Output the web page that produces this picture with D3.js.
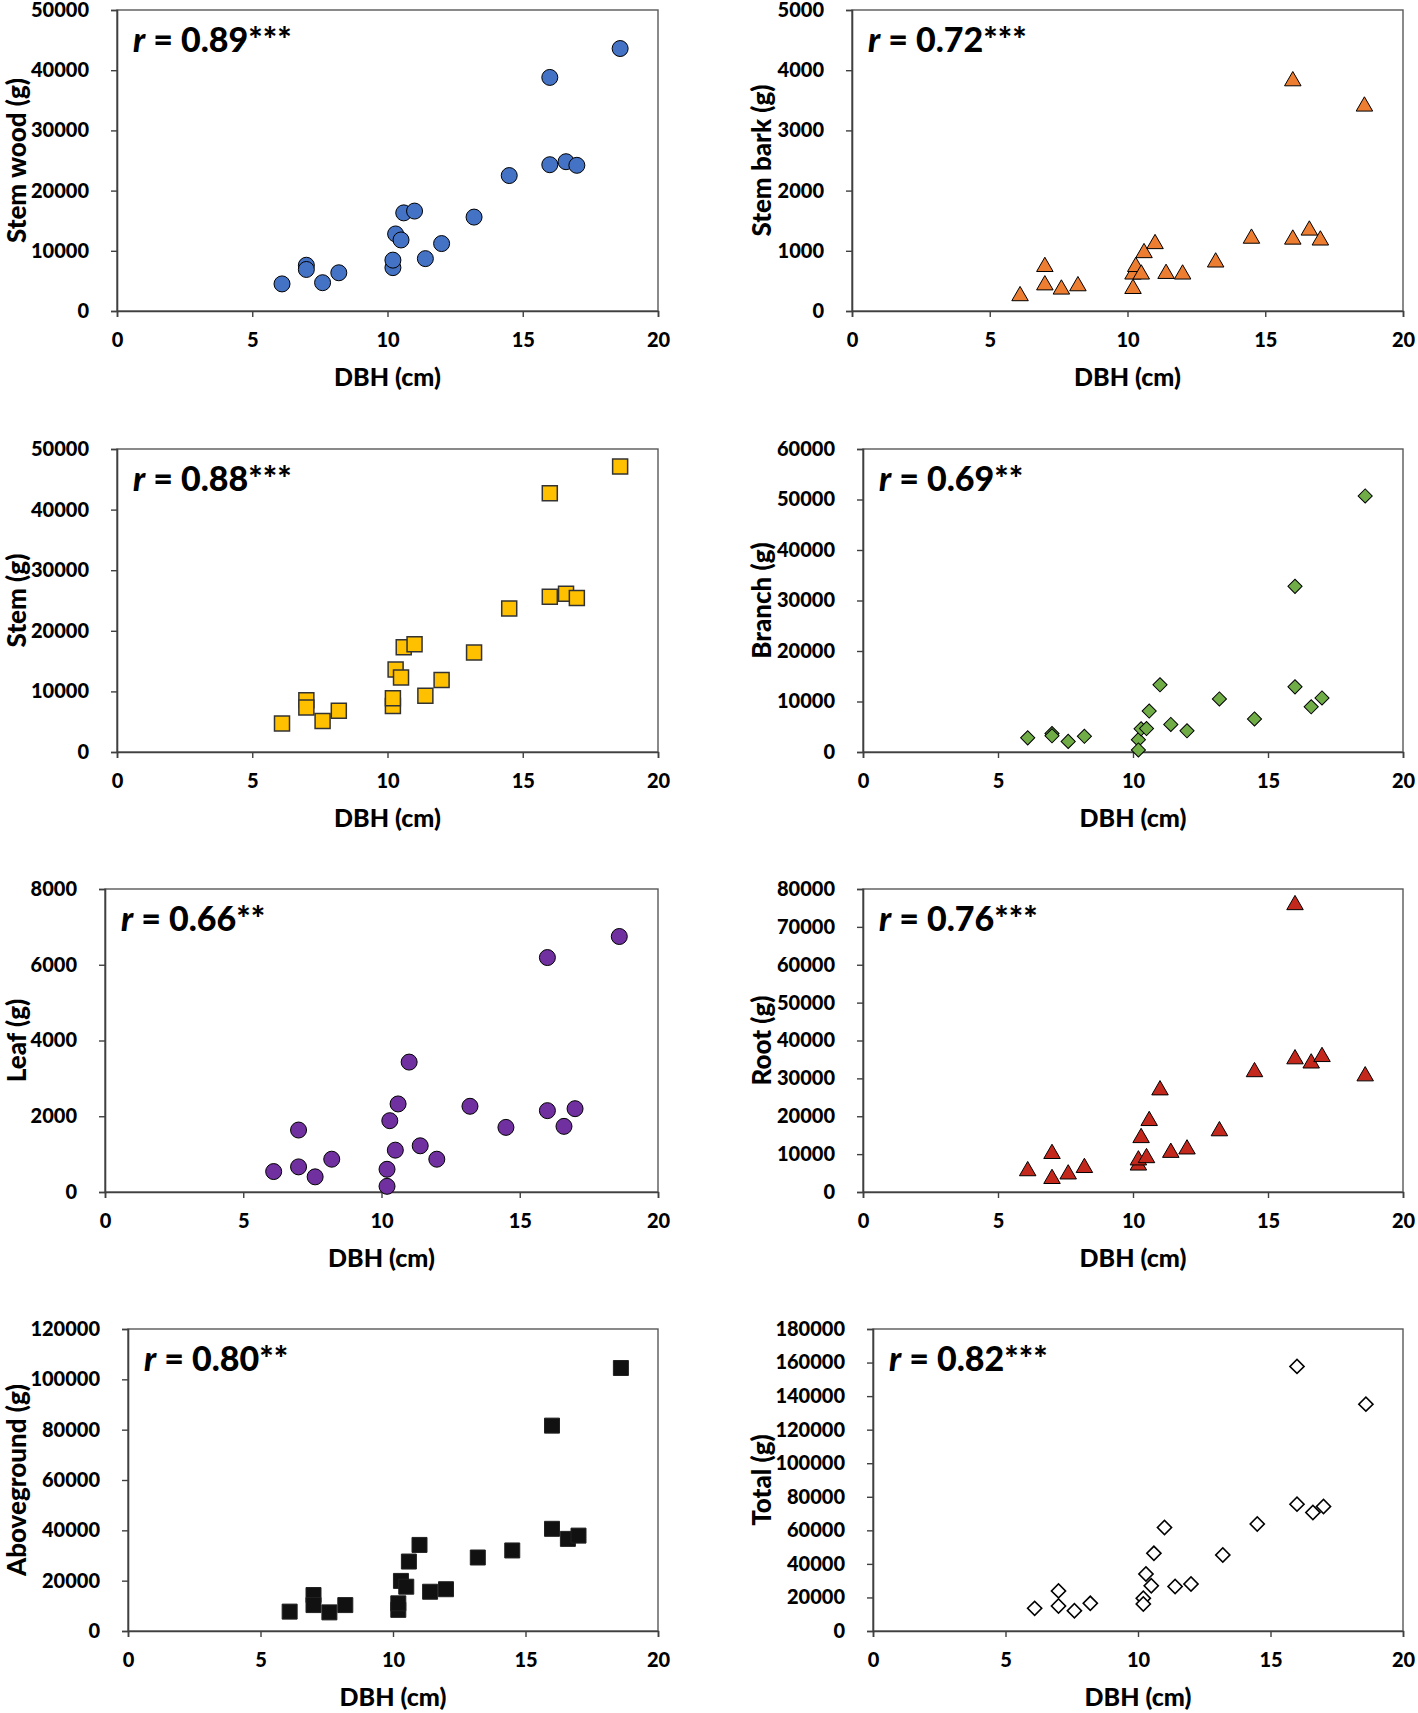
<!DOCTYPE html>
<html>
<head>
<meta charset="utf-8">
<script src="https://cdn.jsdelivr.net/npm/d3@7"></script>
<style>
  html, body { margin: 0; padding: 0; background: #fff; }
  svg text { font-family: Lato, "Open Sans", sans-serif; font-weight: 900; fill: #000; }
</style>
</head>
<body>
<svg id="chart" width="1418" height="1713"></svg>
<script>
// ---- data ----
const dbh = [6.1, 7.0, 7.0, 7.6, 8.2, 10.2, 10.2, 10.3, 10.5, 10.6, 11.0, 11.4, 12.0, 13.2, 14.5, 16.0, 16.0, 16.6, 17.0, 18.6];
const stemWood = [4500, 7600, 6900, 4700, 6350, 7200, 8450, 12800, 11800, 16300, 16600, 8700, 11200, 15600, 22500, 38800, 24300, 24800, 24200, 43600];
const stemBark = [250, 735, 430, 360, 415, 370, 610, 735, 610, 965, 1115, 620, 610, 810, 1205, 3820, 1190, 1340, 1175, 3400];
const stem = [4700, 8550, 7350, 5100, 6800, 7600, 8850, 13600, 12300, 17300, 17800, 9300, 11900, 16400, 23700, 42700, 25600, 26100, 25400, 47100];
const branch = [2800, 3650, 3200, 2100, 3100, 2450, 400, 4600, 4650, 8100, 13300, 5450, 4200, 10500, 6550, 32800, 12900, 8950, 10700, 50700];
const leaf = [540, 663, 1636, 400, 866, 600, 150, 1883, 1105, 2325, 3430, 1220, 866, 2263, 1706, 6190, 2148, 1733, 2200, 6746];
const root = [5550, 10100, 3500, 4700, 6400, 7050, 8400, 14300, 9000, 18800, 26900, 10400, 11300, 16100, 31700, 75800, 35100, 34000, 35700, 30600];
const aboveground = [7700, 14300, 10300, 7400, 10300, 8400, 11000, 19900, 17600, 27600, 34200, 15600, 16600, 29200, 32000, 81600, 40600, 36600, 37900, 104500];
const total = [13500, 23900, 14900, 12100, 16500, 19500, 16100, 34000, 27000, 46300, 61700, 26500, 28000, 45300, 63800, 157700, 75600, 70600, 74200, 135200];

const xTicks = [0, 5, 10, 15, 20];
const yTicksStemWood = [0, 10000, 20000, 30000, 40000, 50000];
const yTicksStemBark = [0, 1000, 2000, 3000, 4000, 5000];
const yTicksStem = [0, 10000, 20000, 30000, 40000, 50000];
const yTicksBranch = [0, 10000, 20000, 30000, 40000, 50000, 60000];
const yTicksLeaf = [0, 2000, 4000, 6000, 8000];
const yTicksRoot = [0, 10000, 20000, 30000, 40000, 50000, 60000, 70000, 80000];
const yTicksAbove = [0, 20000, 40000, 60000, 80000, 100000, 120000];
const yTicksTotal = [0, 20000, 40000, 60000, 80000, 100000, 120000, 140000, 160000, 180000];

const yTitles = ["Stem wood (g)", "Stem bark (g)", "Stem (g)", "Branch (g)", "Leaf (g)", "Root (g)", "Aboveground (g)", "Total (g)"];
const rValues = ["0.89***", "0.72***", "0.88***", "0.69**", "0.66**", "0.76***", "0.80**", "0.82***"];
const xTitle = "DBH (cm)";

// ---- layout / styling ----
const panels = [
  {vals: stemWood, ticks: yTicksStemWood, L: 117, R: 658, T: 10, B: 311, cx: 0, shape: "circle", fill: "#4472C4"},
  {vals: stemBark, ticks: yTicksStemBark, L: 852, R: 1403, T: 10, B: 311, cx: 745, shape: "triangle", fill: "#ED7D31"},
  {vals: stem, ticks: yTicksStem, L: 117, R: 658, T: 449, B: 752, cx: 0, shape: "square", fill: "#FFC000"},
  {vals: branch, ticks: yTicksBranch, L: 863, R: 1403, T: 449, B: 752, cx: 745, shape: "diamond", fill: "#70AD47"},
  {vals: leaf, ticks: yTicksLeaf, L: 105, R: 658, T: 889, B: 1192, cx: 0, shape: "circle", fill: "#7030A0"},
  {vals: root, ticks: yTicksRoot, L: 863, R: 1403, T: 889, B: 1192, cx: 745, shape: "triangle", fill: "#C4281C"},
  {vals: aboveground, ticks: yTicksAbove, L: 128, R: 658, T: 1329, B: 1631, cx: 0, shape: "blacksquare", fill: "#111111"},
  {vals: total, ticks: yTicksTotal, L: 873, R: 1403, T: 1329, B: 1631, cx: 745, shape: "hollowdiamond", fill: "#ffffff"}
];

const svg = d3.select("#chart");

function markerPath(shape) {
  if (shape === "circle") return d3.symbol(d3.symbolCircle, Math.PI * 8 * 8)();
  if (shape === "triangle") {
    return d3.symbol(d3.symbolTriangle, Math.sqrt(3) / 4 * 16.5 * 16.5)();
  }
  if (shape === "square" || shape === "blacksquare") return d3.symbol(d3.symbolSquare, 15 * 15)();
  // diamond: square rotated 45deg
  return d3.symbol(d3.symbolSquare, 10 * 10)();
}

panels.forEach((p, i) => {
  const x = d3.scaleLinear().domain([0, 20]).range([p.L, p.R]);
  const y = d3.scaleLinear().domain([0, d3.max(p.ticks)]).range([p.B, p.T]);
  const g = svg.append("g");

  // plot border (top/right)
  g.append("rect")
    .attr("x", p.L).attr("y", p.T)
    .attr("width", p.R - p.L).attr("height", p.B - p.T)
    .attr("fill", "none").attr("stroke", "#595959").attr("stroke-width", 1.4);

  // axes
  const xa = g.append("g").attr("transform", `translate(0,${p.B})`)
    .call(d3.axisBottom(x).tickValues(xTicks).tickSizeOuter(0).tickSize(6).tickPadding(16).tickFormat(d3.format("d")));
  const ya = g.append("g").attr("transform", `translate(${p.L},0)`)
    .call(d3.axisLeft(y).tickValues(p.ticks).tickSizeOuter(0).tickSize(6).tickPadding(22).tickFormat(d3.format("d")));
  [xa, ya].forEach(a => {
    a.select(".domain").attr("stroke", "#404040").attr("stroke-width", 1.6);
    a.selectAll(".tick line").attr("stroke", "#404040").attr("stroke-width", 1.4);
    a.selectAll(".tick text").attr("font-size", 20).attr("font-family", "Lato, sans-serif").attr("font-weight", 900).attr("fill", "#000");
  });

  // axis titles
  g.append("text")
    .attr("x", (p.L + p.R) / 2).attr("y", p.B + 75)
    .attr("text-anchor", "middle").attr("font-size", 25)
    .text(xTitle);
  g.append("text")
    .attr("transform", `translate(${p.cx + 26},${(p.T + p.B) / 2}) rotate(-90)`)
    .attr("text-anchor", "middle").attr("font-size", 26)
    .text(yTitles[i]);

  // r label
  const rt = g.append("text").attr("x", p.L + 16).attr("y", p.T + 42).attr("font-size", 34);
  rt.append("tspan").attr("font-style", "italic").text("r");
  rt.append("tspan").text(" = " + rValues[i]);

  // markers
  const path = markerPath(p.shape);
  const pts = dbh.map((d, k) => ({x: d, y: p.vals[k]}));
  g.selectAll("path.mk").data(pts).join("path")
    .attr("class", "mk")
    .attr("d", path)
    .attr("transform", d => {
      const rot = (p.shape === "diamond" || p.shape === "hollowdiamond") ? " rotate(45)" : "";
      return `translate(${x(d.x)},${y(d.y)})${rot}`;
    })
    .attr("fill", p.fill)
    .attr("stroke", p.shape === "blacksquare" ? "#222" : (p.shape === "square" ? "#333" : "#000"))
    .attr("stroke-width", p.shape === "hollowdiamond" ? 1.6 : (p.shape === "square" ? 1.5 : 1));
});
</script>
</body>
</html>
